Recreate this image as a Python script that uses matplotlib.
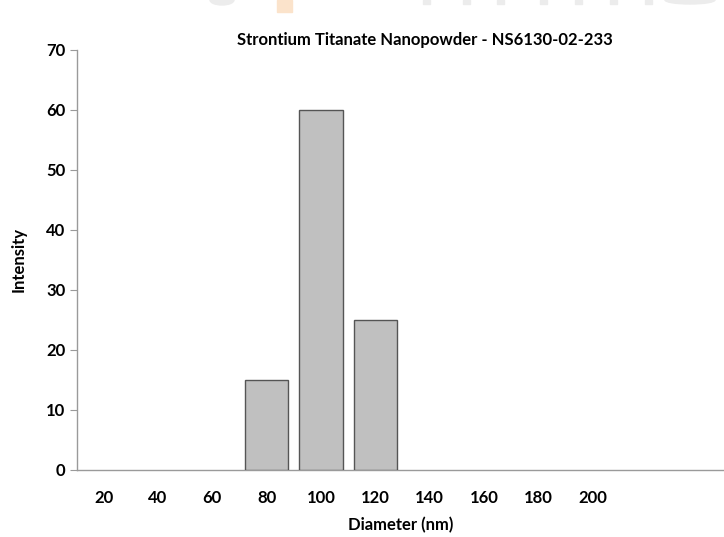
import matplotlib
matplotlib.use("Agg")
import matplotlib.pyplot as plt
from matplotlib.patches import Rectangle, Ellipse

# Data
categories = ["20", "40", "60", "80", "100", "120", "140", "160", "180", "200", "", ""]
intensity = [0, 0, 0, 15, 60, 25, 0, 0, 0, 0, 0, 0]
title = "Strontium Titanate Nanopowder - NS6130-02-233"
y_ticks = [0, 10, 20, 30, 40, 50, 60, 70]

plt.rcParams['font.family'] = ['Lato', 'DejaVu Sans']
plt.rcParams['font.weight'] = 'bold'

W, H = 724, 537
fig = plt.figure(figsize=(W / 100, H / 100), dpi=100)

left, right, top, bottom = 76.6, 724, 50, 470
ax = fig.add_axes([left / W, (H - bottom) / H, (right - left) / W, (bottom - top) / H])

spacing = 54.3
ncat = (right - left) / spacing
x = list(range(len(categories)))
edges = ["#555555" if v > 0 else "none" for v in intensity]
ax.bar(x, intensity, width=0.8, color="#c0c0c0", edgecolor=edges, linewidth=1.0, zorder=3)

ax.set_xlim(-0.5, -0.5 + ncat)
ax.set_ylim(0, 70)
ax.set_yticks(y_ticks)
ax.set_xticks(x)
ax.set_xticklabels(categories)

for s in ["top", "right"]:
    ax.spines[s].set_visible(False)
for s in ["left", "bottom"]:
    ax.spines[s].set_color("#9a9a9a")
    ax.spines[s].set_linewidth(1.0)

fs = 12
ax.tick_params(axis="y", direction="out", length=5, color="#9a9a9a", labelsize=fs, pad=3)
ax.tick_params(axis="x", length=0, labelsize=fs, pad=14.5)
for lab in ax.get_xticklabels() + ax.get_yticklabels():
    lab.set_fontweight("bold")

ax.set_xlabel("Diameter (nm)", fontsize=fs, fontweight="bold", labelpad=8)
ax.set_ylabel("Intensity", fontsize=fs, fontweight="bold", labelpad=14)

fig.text(425 / W, 1 - 40 / H, title, ha="center", va="center", fontsize=12, fontweight="bold")

# faint watermark fragments at top edge
wm = "#ececec"
fig.patches.append(Ellipse((222 / W, 1.0), 24 / W, 10 / H, transform=fig.transFigure, color=wm, zorder=0))
fig.patches.append(Rectangle((277 / W, 1 - 12 / H), 15 / W, 12 / H, transform=fig.transFigure, color="#fbe3cb", zorder=0))
for xs in [423, 463, 497, 540, 575, 610, 645]:
    fig.patches.append(Rectangle((xs / W, 1 - 4 / H), 7 / W, 4 / H, transform=fig.transFigure, color=wm, zorder=0))
fig.patches.append(Ellipse((690 / W, 1.0), 50 / W, 8 / H, transform=fig.transFigure, color=wm, zorder=0))

fig.savefig("out.png", dpi=100)
